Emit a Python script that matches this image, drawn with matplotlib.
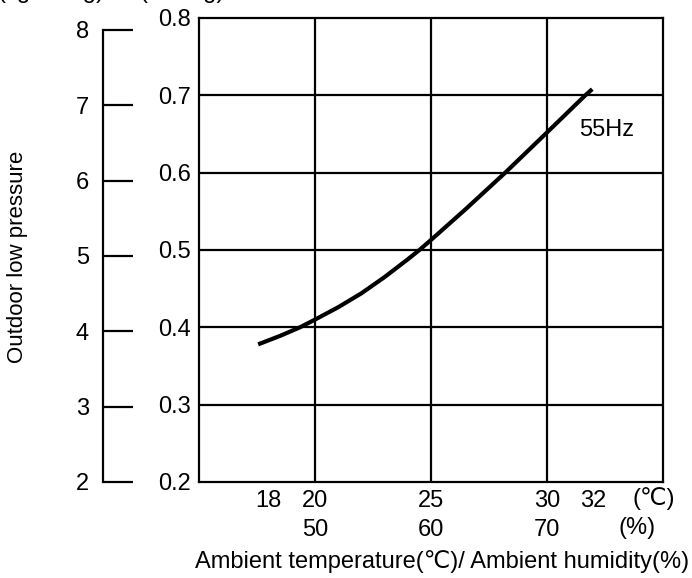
import numpy as np
import matplotlib.pyplot as plt

plt.rcParams['font.family'] = ['Liberation Sans', 'DejaVu Sans']
plt.rcParams['font.size'] = 17

# ambient temperature (C) vs outdoor low pressure (MPa), 55Hz
temp = [17.55, 18.5, 19.35, 20.0, 21.0, 22.0, 23.0, 24.0, 24.5, 25.0, 26.5, 28.2, 30.0, 31.65, 31.95]
press = [0.378, 0.389, 0.400, 0.410, 0.426, 0.444, 0.465, 0.488, 0.500, 0.513, 0.553, 0.600, 0.652, 0.700, 0.708]

temp_ticks = [18, 20, 25, 30, 32]
hum_ticks = [50, 60, 70]
mpa_ticks = [0.2, 0.3, 0.4, 0.5, 0.6, 0.7, 0.8]
kgf_ticks = [2, 3, 4, 5, 6, 7, 8]
grid_temp = [20, 25, 30]
grid_mpa = [0.3, 0.4, 0.5, 0.6, 0.7]

MPA_PER_KGF = 0.0980665
lw = 1.6

fig = plt.figure(figsize=(6.92, 5.78), dpi=100)
ax = fig.add_axes([199/692, 1 - 482/578, 464/692, 464/578])

ax.set_xlim(15, 35)
ax.set_ylim(0.2, 0.8)
for t in grid_temp:
    ax.axvline(t, color='black', lw=lw)
for p in grid_mpa:
    ax.axhline(p, color='black', lw=lw)
for s in ax.spines.values():
    s.set_linewidth(lw)

ax.plot(temp, press, color='black', lw=3, solid_capstyle='butt', solid_joinstyle='round')
ax.text(32.55, 0.655, '55Hz', ha='center', va='center')

ax.set_yticks(mpa_ticks)
ax.set_yticklabels([f'{v:.1f}' for v in mpa_ticks])
ax.set_xticks(temp_ticks)
ax.tick_params(length=0)
ax.tick_params(axis='y', pad=6)
ax.tick_params(axis='x', pad=6)

# humidity scale under the temperature labels
hum = ax.secondary_xaxis(-0.062, functions=(lambda t: 2 * t + 10, lambda h: (h - 10) / 2))
hum.set_xticks(hum_ticks)
hum.tick_params(length=0, pad=6)
hum.spines['bottom'].set_visible(False)

ax.annotate('(\u2103)', xy=(34.6, 0), xycoords=('data', 'axes fraction'),
            xytext=(0, -4), textcoords='offset points', ha='center', va='top')
ax.annotate('(%)', xy=(33.9, 0), xycoords=('data', 'axes fraction'),
            xytext=(0, -25.5), textcoords='offset points', ha='center', va='top')

ax.set_xlabel('Ambient temperature(\u2103)/ Ambient humidity(%)')
ax.xaxis.set_label_coords(0.523, -0.147)

# kgf/cm2 scale on the far left
ax2 = fig.add_axes([103/692, 1 - 482/578, 0.05, 464/578])
ax2.set_ylim(0.2 / MPA_PER_KGF, 0.8 / MPA_PER_KGF)
ax2.patch.set_visible(False)
for k in ['top', 'right', 'bottom']:
    ax2.spines[k].set_visible(False)
ax2.spines['left'].set_linewidth(lw)
ax2.spines['left'].set_bounds(2, 8)
ax2.set_xticks([])
ax2.set_yticks(kgf_ticks)
ax2.tick_params(axis='y', direction='in', length=21.6, width=lw, pad=10)

fig.text(18/692, 1 - 257/578, 'Outdoor low pressure', rotation=90,
         ha='center', va='center', fontsize=16)
fig.text(-0.004, 1 + 2/578, '(kgf/cm\u00b2g)', ha='left', va='baseline')
fig.text(140/692, 1 + 2/578, '(MPa g)', ha='left', va='baseline')

fig.savefig('out.png', dpi=100)
